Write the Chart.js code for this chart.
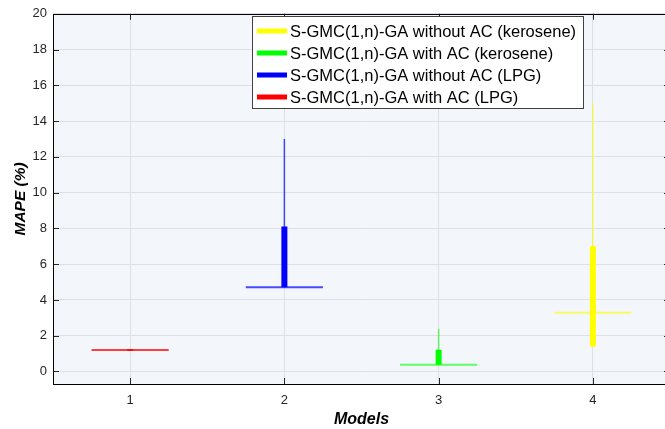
<!DOCTYPE html>
<html>
<head>
<meta charset="utf-8">
<title>MAPE by model</title>
<script src="https://cdn.jsdelivr.net/npm/chart.js@4.4.1/dist/chart.umd.min.js"></script>
<style>
  html, body { margin: 0; padding: 0; background: #fff; overflow: hidden; }
  #wrap { position: relative; width: 672px; height: 429px; }
</style>
</head>
<body>
<div id="wrap"><canvas id="mape" width="672" height="429"></canvas></div>
<script>
// Box summary per model (MAPE, %)
const models = [1, 2, 3, 4];
const seriesNames = [
  'S-GMC(1,n)-GA with AC (LPG)',
  'S-GMC(1,n)-GA without AC (LPG)',
  'S-GMC(1,n)-GA with AC (kerosene)',
  'S-GMC(1,n)-GA without AC (kerosene)'
];
const whiskerLow = [1.16, 4.71, 0.37, 1.40];
const boxLow = [1.16, 4.71, 0.37, 1.40];
const medians = [1.20, 4.71, 0.37, 3.29];
const boxHigh = [1.24, 8.10, 1.21, 7.02];
const whiskerHigh = [1.24, 13.0, 2.38, 15.0];
const yTicks = [0, 2, 4, 6, 8, 10, 12, 14, 16, 18, 20];

const solid = ['#ff0000', '#0000ff', '#00ff00', '#ffff00'];
const faint = ['rgba(255,0,0,0.75)', 'rgba(0,0,255,0.7)', 'rgba(0,255,0,0.6)', 'rgba(255,255,0,0.6)'];
const MEDIAN_HALF = 0.25;

const FONT = "'Liberation Sans', Arial, Helvetica, sans-serif";
const datasets = [];

// whiskers (thin), boxes (thick), then median bars on top
models.forEach((m, i) => {
  datasets.push({
    label: seriesNames[i] + ' whisker',
    data: [{ x: m, y: whiskerLow[i] }, { x: m, y: whiskerHigh[i] }],
    borderColor: faint[i], borderWidth: 1.5, pointRadius: 0, order: 3
  });
});
models.forEach((m, i) => {
  datasets.push({
    label: seriesNames[i],
    data: [{ x: m, y: boxLow[i] }, { x: m, y: boxHigh[i] }],
    borderColor: solid[i], borderWidth: 6, pointRadius: 0, order: 2
  });
});
models.forEach((m, i) => {
  datasets.push({
    label: seriesNames[i] + ' median',
    data: [{ x: m - MEDIAN_HALF, y: medians[i] }, { x: m + MEDIAN_HALF, y: medians[i] }],
    borderColor: faint[i], borderWidth: 2, pointRadius: 0, order: 1
  });
});

// plot area fill
const areaBackground = {
  id: 'areaBackground',
  beforeDraw(chart) {
    const { ctx, chartArea: a } = chart;
    ctx.save();
    ctx.fillStyle = '#f3f6fb';
    ctx.fillRect(a.left, a.top, a.right - a.left, a.bottom - a.top);
    ctx.restore();
  }
};

// axes box with inward tick marks
const axisFrame = {
  id: 'axisFrame',
  afterDatasetsDraw(chart) {
    const { ctx, chartArea: a, scales } = chart;
    const len = 6;
    ctx.save();
    ctx.strokeStyle = '#262626';
    ctx.lineWidth = 1;
    ctx.beginPath();
    scales.y.ticks.forEach(t => {
      const y = Math.round(scales.y.getPixelForValue(t.value)) + 0.5;
      ctx.moveTo(a.left, y); ctx.lineTo(a.left + len, y);
      ctx.moveTo(a.right, y); ctx.lineTo(a.right - len, y);
    });
    scales.x.ticks.forEach(t => {
      const x = Math.round(scales.x.getPixelForValue(t.value)) + 0.5;
      ctx.moveTo(x, a.bottom); ctx.lineTo(x, a.bottom - len);
      ctx.moveTo(x, a.top); ctx.lineTo(x, a.top + len);
    });
    ctx.stroke();
    ctx.strokeStyle = '#000';
    ctx.strokeRect(Math.round(a.left) + 0.5, Math.round(a.top) + 0.5,
      Math.round(a.right - a.left), Math.round(a.bottom - a.top));
    ctx.restore();
  }
};

// boxed legend, kerosene entries first
const boxLegend = {
  id: 'boxLegend',
  afterDraw(chart) {
    const ctx = chart.ctx;
    const x0 = 252, y0 = 16, w = 331, h = 92, rowH = 22;
    ctx.save();
    ctx.fillStyle = '#fff';
    ctx.fillRect(x0, y0, w, h);
    ctx.strokeStyle = '#404040';
    ctx.lineWidth = 1;
    ctx.strokeRect(x0 + 0.5, y0 + 0.5, w, h);
    ctx.font = '16.5px ' + FONT;
    ctx.textBaseline = 'middle';
    const order = [3, 2, 1, 0];
    order.forEach((i, r) => {
      const y = y0 + 15 + r * rowH;
      ctx.strokeStyle = solid[i];
      ctx.lineWidth = 5;
      ctx.beginPath();
      ctx.moveTo(x0 + 5, y); ctx.lineTo(x0 + 35, y);
      ctx.stroke();
      ctx.fillStyle = '#000';
      ctx.fillText(seriesNames[i], x0 + 38, y + 1);
    });
    ctx.restore();
  }
};

new Chart(document.getElementById('mape'), {
  type: 'line',
  data: { datasets },
  options: {
    responsive: false,
    devicePixelRatio: 1,
    animation: false,
    layout: { padding: { top: 13, right: 2, bottom: 0, left: 0 } },
    plugins: { legend: { display: false }, tooltip: { enabled: false } },
    scales: {
      x: {
        type: 'linear', min: 0.5, max: 4.5,
        afterBuildTicks: s => { s.ticks = models.map(v => ({ value: v })); },
        afterFit: s => { s.height = 45; },
        grid: { color: '#dde0e5', drawTicks: false },
        border: { display: false },
        ticks: { color: '#262626', font: { family: FONT, size: 13 }, padding: 9 },
        title: {
          display: true, text: 'Models', color: '#000',
          font: { family: FONT, size: 16, weight: 'bold', style: 'italic' },
          padding: { top: 0, bottom: 0 }
        }
      },
      y: {
        type: 'linear', min: -0.7, max: 20,
        afterBuildTicks: s => { s.ticks = yTicks.map(v => ({ value: v })); },
        afterFit: s => { s.width = 53; },
        grid: { color: '#dde0e5', drawTicks: false },
        border: { display: false },
        ticks: { color: '#262626', font: { family: FONT, size: 13 }, padding: 6 },
        title: {
          display: true, text: 'MAPE (%)', color: '#000',
          font: { family: FONT, size: 15.5, weight: 'bold', style: 'italic' },
          padding: { top: 11, bottom: 0 }
        }
      }
    }
  },
  plugins: [areaBackground, axisFrame, boxLegend]
});
</script>
</body>
</html>
